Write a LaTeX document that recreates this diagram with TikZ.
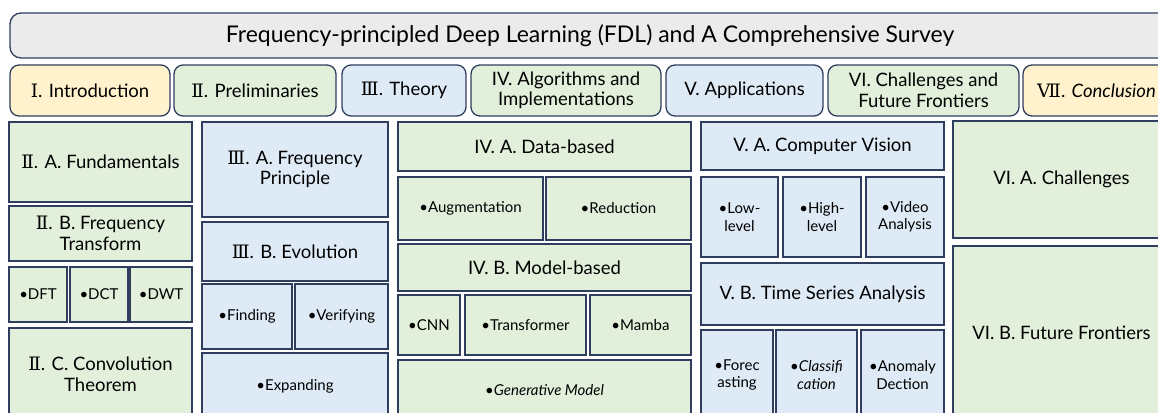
\documentclass[tikz,border=0pt]{standalone}
\usepackage{fontspec}
\setmainfont{Lato}
\newfontfamily\romf{DejaVu Serif}
\definecolor{bordc}{RGB}{47,62,94}
\definecolor{titlef}{RGB}{235,235,235}
\definecolor{yelf}{RGB}{255,242,204}
\definecolor{grnf}{RGB}{226,239,218}
\definecolor{bluf}{RGB}{222,234,246}
\newcommand\bx[7]{\node[#2, minimum width=#5-#3, minimum height=#6-#4] (#1) at (#3,#4) {#7};}
\newcommand\R[1]{{\romf #1}}
\begin{document}
\begin{tikzpicture}[x=1pt,y=-1pt,
  base/.style={draw=bordc, line width=1.3pt, inner sep=2pt, outer sep=0pt, align=center, text=black, anchor=north west},
  ttl/.style={base, fill=titlef, rounded corners=11pt, font=\fontsize{23}{26}\selectfont},
  sec/.style={base, rounded corners=9pt, font=\fontsize{18.5}{20.5}\selectfont},
  yel/.style={sec, fill=yelf},
  grs/.style={sec, fill=grnf},
  bls/.style={sec, fill=bluf},
  head/.style={base, font=\fontsize{18.5}{20.5}\selectfont},
  gh/.style={head, fill=grnf},
  bh/.style={head, fill=bluf},
  item/.style={base, font=\fontsize{15}{17.5}\selectfont},
  gi/.style={item, fill=grnf},
  bi/.style={item, fill=bluf}]
\useasboundingbox (0,0) rectangle (1158,412);
\clip (0,0) rectangle (1158,412);
% title
\bx{title}{ttl}{10}{13}{1170}{58}{Frequency-principled Deep Learning (FDL) and A Comprehensive Survey}
% sections
\bx{intro}{yel}{10}{65}{170}{116}{\R{Ⅰ}. Introduction}
\bx{prelim}{grs}{174}{65}{336}{116}{\R{Ⅱ}. Preliminaries}
\bx{theory}{bls}{342}{65}{466}{116}{\R{Ⅲ}. Theory}
\bx{algo}{grs}{471}{65}{661}{116}{IV. Algorithms and\\Implementations}
\bx{appl}{bls}{666}{65}{823}{116}{V. Applications}
\bx{chfu}{grs}{828}{65}{1019}{116}{VI. Challenges and\\Future Frontiers}
\bx{concl}{yel}{1023}{65}{1170}{116}{\R{Ⅶ}. \textit{Conclusion}}
% column 1
\bx{fund}{gh}{9}{122}{192}{202}{\R{Ⅱ}. A. Fundamentals}
\bx{ftrans}{gh}{9}{206}{192}{261}{\R{Ⅱ}. B. Frequency\\Transform}
\bx{dft}{gi}{9}{267}{67}{322}{•DFT}
\bx{dct}{gi}{70}{267}{128}{322}{•DCT}
\bx{dwt}{gi}{130}{267}{192}{322}{•DWT}
\bx{conv}{gh}{9}{328}{192}{420}{\R{Ⅱ}. C. Convolution\\Theorem}
% column 2
\bx{fp}{bh}{202}{122}{388}{217}{\R{Ⅲ}. A. Frequency\\Principle}
\bx{evo}{bh}{202}{222}{388}{281}{\R{Ⅲ}. B. Evolution}
\bx{find}{bi}{202}{284}{292}{349}{•Finding}
\bx{verif}{bi}{295}{284}{388}{349}{•Verifying}
\bx{expand}{bi}{202}{353}{388}{420}{•Expanding}
% column 3
\bx{data}{gh}{398}{122}{691}{171}{IV. A. Data-based}
\bx{aug}{gi}{398}{177}{543}{240}{•Augmentation}
\bx{red}{gi}{546}{177}{691}{240}{•Reduction}
\bx{model}{gh}{398}{244}{691}{291}{IV. B. Model-based}
\bx{cnn}{gi}{398}{295}{460}{355}{•CNN}
\bx{trans}{gi}{465}{295}{586}{355}{•Transformer}
\bx{mamba}{gi}{590}{295}{691}{355}{•Mamba}
\bx{gen}{gi}{398}{360}{691}{420}{•\textit{Generative Model}}
% column 4
\bx{cv}{bh}{701}{122}{944}{170}{V. A. Computer Vision}
\bx{low}{bi}{701}{177}{778}{257}{•Low-\\level}
\bx{high}{bi}{783}{177}{861}{257}{•High-\\level}
\bx{video}{bi}{866}{177}{944}{257}{•Video\\Analysis}
\bx{ts}{bh}{701}{263}{944}{325}{V. B. Time Series Analysis}
\bx{fore}{bi}{701}{330}{773}{420}{•Forec\\asting}
\bx{class}{bi}{776}{330}{857}{420}{•\textit{Classifi}\\\textit{cation}}
\bx{anom}{bi}{861}{330}{944}{420}{•Anomaly\\Dection}
% column 5
\bx{chal}{gh}{953}{121}{1170}{238}{VI. A. Challenges}
\bx{future}{gh}{953}{246}{1170}{420}{VI. B. Future Frontiers}
\end{tikzpicture}
\end{document}
